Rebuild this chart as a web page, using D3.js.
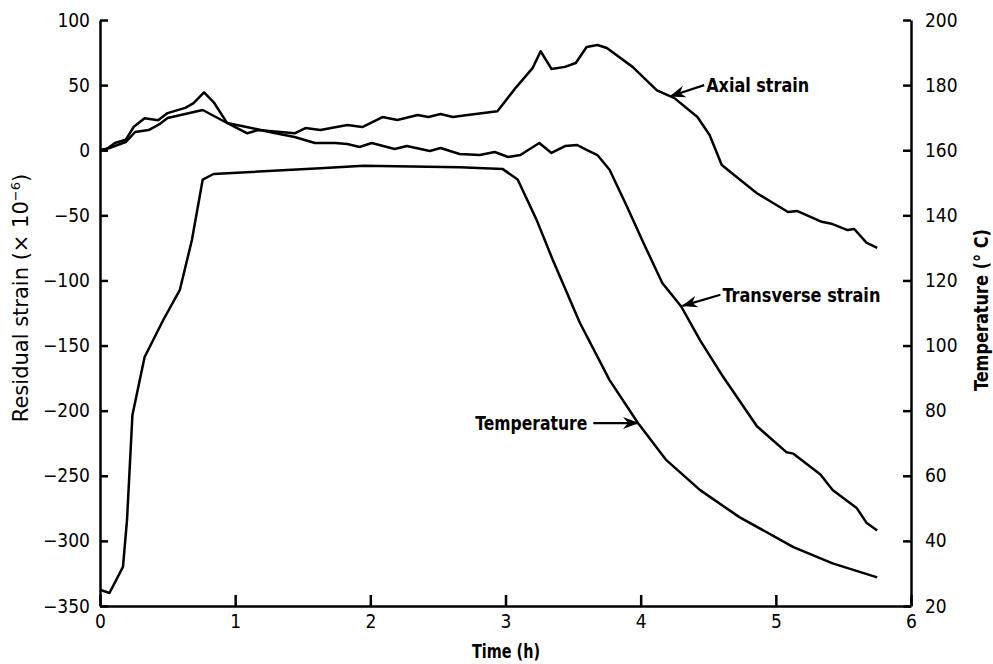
<!DOCTYPE html>
<html>
<head>
<meta charset="utf-8">
<script src="https://cdn.jsdelivr.net/npm/d3@7"></script>
<style>
  body { margin: 0; background: #fff; }
  svg { display: block; }
  .lbl { font-family: "DejaVu Sans", sans-serif; font-stretch: condensed; font-weight: bold; fill: #000; }
</style>
</head>
<body>
<svg id="chart" width="993" height="664"></svg>
<script>
// time (h), values
var axialTime   = [0, 0.05, 0.11, 0.19, 0.25, 0.33, 0.43, 0.5, 0.63, 0.69, 0.77, 0.84, 0.94, 1.09, 1.17, 1.44, 1.52, 1.63,
                   1.83, 1.94, 2.09, 2.2, 2.35, 2.43, 2.52, 2.61, 2.72, 2.94, 3.08, 3.2, 3.26, 3.34, 3.44, 3.52, 3.6, 3.68,
                   3.75, 3.94, 4.12, 4.25, 4.42, 4.51, 4.6, 4.71, 4.86, 4.98, 5.09, 5.16, 5.34, 5.42, 5.53, 5.58, 5.67, 5.75];
var axialStrain = [0, 1, 5.5, 8, 18, 24.5, 23, 28.5, 32.5, 36, 44.5, 37, 21, 13, 15.5, 13, 17, 15.5,
                   19.4, 17.8, 25.5, 23.2, 27, 25.5, 27.8, 25.5, 27, 30, 48.5, 63, 76, 62.4, 64, 67, 79.3, 80.8,
                   78.5, 64, 46, 40, 25.5, 11.7, -11.3, -20.6, -33, -40.5, -47.4, -46.7, -55, -56.7, -61.3, -60.5, -71, -75];

var transTime   = [0, 0.07, 0.19, 0.26, 0.36, 0.44, 0.5, 0.76, 0.94, 1.12, 1.29, 1.44, 1.59, 1.74, 1.83, 1.92, 2.01, 2.18,
                   2.27, 2.44, 2.52, 2.66, 2.81, 2.92, 3.02, 3.11, 3.25, 3.34, 3.44, 3.53, 3.6, 3.68, 3.77, 3.9, 4.02,
                   4.16, 4.3, 4.44, 4.61, 4.86, 5.08, 5.13, 5.33, 5.42, 5.6, 5.67, 5.75];
var transStrain = [0, 1.7, 6.3, 14, 15.5, 20, 24.7, 30.9, 20.9, 17, 13.2, 10.2, 5.5, 5.5, 4.8, 2.5, 5.5, 0.9,
                   3.2, -0.6, 1.7, -2.9, -3.7, -1.4, -5.2, -3.7, 5.5, -2.1, 3.2, 4, 0.2, -3.7, -15, -43.6, -71,
                   -102, -120, -146, -174, -212, -232, -233, -249, -261, -275, -286, -292];

var tempTime    = [0, 0.07, 0.17, 0.2, 0.24, 0.33, 0.47, 0.59, 0.68, 0.76, 0.84, 1.63, 1.95, 2.66, 2.98, 3.09,
                   3.23, 3.35, 3.55, 3.77, 3.98, 4.19, 4.44, 4.73, 5.13, 5.42, 5.75];
var tempC       = [25, 24, 32, 46.5, 78.7, 96.5, 108, 117, 132.4, 151, 152.7, 154.5, 155.2, 154.8, 154.2, 151,
                   138.6, 126.3, 107, 89.4, 76.2, 64.8, 55.6, 47.3, 38.1, 33.1, 28.8];

var timeTicks   = [0, 1, 2, 3, 4, 5, 6];
var strainTicks = [-350, -300, -250, -200, -150, -100, -50, 0, 50, 100];
var tempTicks   = [20, 40, 60, 80, 100, 120, 140, 160, 180, 200];

// annotation: label, arrow tail/head in data units, which axis
var notes = [
  {text: 'Axial strain',      axis: 'L', tail: [4.47, 50],   head: [4.22, 41.5],   anchor: 'start', w: 103},
  {text: 'Transverse strain', axis: 'L', tail: [4.59, -111], head: [4.31, -119.5], anchor: 'start', w: 158},
  {text: 'Temperature',       axis: 'R', tail: [3.65, 76.2], head: [3.98, 76.2],   anchor: 'end',   w: 112}
];

var svg = d3.select('#chart');
var plotL = 100, plotR = 911, plotT = 20, plotB = 606;

var x  = d3.scaleLinear().domain([0, 6]).range([plotL, plotR]);
var yL = d3.scaleLinear().domain([-350, 100]).range([plotB, plotT]);
var yR = d3.scaleLinear().domain([20, 200]).range([plotB, plotT]);

/*
 * Axes, ticks pointing inside the frame
 */
function styleAxis(g) {
  g.attr('font-family', '"DejaVu Sans", sans-serif')
   .attr('font-size', 19)
   .style('font-stretch', 'condensed');
  g.select('.domain').attr('stroke', '#000').attr('stroke-width', 2.5);
  g.selectAll('.tick line').attr('stroke', '#000').attr('stroke-width', 2.5);
  g.selectAll('.tick text').attr('fill', '#000');
}

svg.append('g')
  .attr('transform', 'translate(' + plotL + ',0)')
  .call(d3.axisLeft(yL).tickValues(strainTicks).tickSizeInner(-8).tickSizeOuter(0).tickPadding(10))
  .call(styleAxis);

svg.append('g')
  .attr('transform', 'translate(' + plotR + ',0)')
  .call(d3.axisRight(yR).tickValues(tempTicks).tickSizeInner(-8).tickSizeOuter(0).tickPadding(14))
  .call(styleAxis);

svg.append('g')
  .attr('transform', 'translate(0,' + plotB + ')')
  .call(d3.axisBottom(x).tickValues(timeTicks).tickFormat(d3.format('d')).tickSizeInner(-11).tickSizeOuter(0).tickPadding(9))
  .call(styleAxis);

/*
 * Curves
 */
var lineL = d3.line().x(function(d) { return x(d[0]); }).y(function(d) { return yL(d[1]); });
var lineR = d3.line().x(function(d) { return x(d[0]); }).y(function(d) { return yR(d[1]); });

var series = [
  {path: lineL, data: d3.zip(axialTime, axialStrain)},
  {path: lineL, data: d3.zip(transTime, transStrain)},
  {path: lineR, data: d3.zip(tempTime, tempC)}
];

svg.selectAll('.curve')
  .data(series)
  .enter().append('path')
  .attr('class', 'curve')
  .attr('d', function(d) { return d.path(d.data); })
  .attr('fill', 'none')
  .attr('stroke', '#000')
  .attr('stroke-width', 2.5)
  .attr('stroke-linejoin', 'round');

/*
 * Annotations with arrows
 */
svg.append('defs').append('marker')
  .attr('id', 'head')
  .attr('markerUnits', 'userSpaceOnUse')
  .attr('markerWidth', 16).attr('markerHeight', 12)
  .attr('refX', 15).attr('refY', 6)
  .attr('orient', 'auto')
  .append('path')
  .attr('d', 'M0,0 L16,6 L0,12 L5,6 Z')
  .attr('fill', '#000');

notes.forEach(function(n) {
  var yy = n.axis === 'L' ? yL : yR;
  var tx = x(n.tail[0]), ty = yy(n.tail[1]);
  svg.append('line')
    .attr('x1', tx).attr('y1', ty)
    .attr('x2', x(n.head[0])).attr('y2', yy(n.head[1]))
    .attr('stroke', '#000').attr('stroke-width', 2.2)
    .attr('marker-end', 'url(#head)');
  svg.append('text')
    .attr('class', 'lbl')
    .attr('x', n.anchor === 'start' ? tx + 2 : tx - 6)
    .attr('y', ty + 7)
    .attr('text-anchor', n.anchor)
    .attr('textLength', n.w)
    .attr('lengthAdjust', 'spacingAndGlyphs')
    .style('font-size', '20px')
    .text(n.text);
});

/*
 * Axis titles
 */
svg.append('text')
  .attr('class', 'lbl')
  .attr('x', 506)
  .attr('y', 658)
  .attr('text-anchor', 'middle')
  .attr('textLength', 68)
  .attr('lengthAdjust', 'spacingAndGlyphs')
  .style('font-size', '20px')
  .text('Time (h)');

var yt = svg.append('text')
  .attr('transform', 'translate(28,298) rotate(-90)')
  .attr('text-anchor', 'middle')
  .style('font-family', '"DejaVu Sans", sans-serif')
  .style('font-size', '21px');
yt.append('tspan').text('Residual strain (× 10');
yt.append('tspan').attr('dy', -8).style('font-size', '13px').text('−6');
yt.append('tspan').attr('dy', 8).text(')');

svg.append('text')
  .attr('class', 'lbl')
  .attr('transform', 'translate(988,310) rotate(-90)')
  .attr('text-anchor', 'middle')
  .attr('textLength', 162)
  .attr('lengthAdjust', 'spacingAndGlyphs')
  .style('font-size', '20px')
  .text('Temperature (° C)');
</script>
</body>
</html>
